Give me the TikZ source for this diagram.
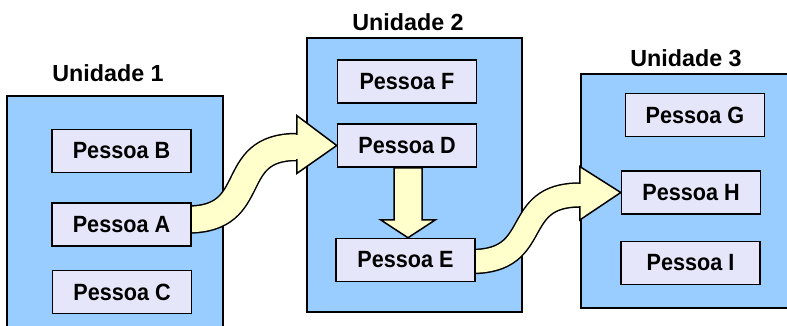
\documentclass[tikz,border=0pt]{standalone}
\usepackage{fontspec}
\setmainfont{Liberation Sans}
\newfontfamily\narrowsans{Liberation Sans}[FakeStretch=0.92]
\usetikzlibrary{calc}
\definecolor{unitblue}{HTML}{99CCFF}
\definecolor{personfill}{HTML}{E6E6FA}
\definecolor{flowyellow}{HTML}{FFFFCC}
\pgfdeclarelayer{unitlayer}
\pgfdeclarelayer{flowlayer}
\pgfsetlayers{unitlayer,flowlayer,main}
\tikzset{
  unitbox/.style={draw=black, line width=1.6pt, fill=unitblue, inner sep=0pt},
  person/.style={draw=black, line width=1.5pt, fill=personfill, inner sep=0pt,
    minimum width=139pt, minimum height=43pt,
    font=\narrowsans\fontsize{23.5}{26}\selectfont\bfseries},
  unitlabel/.style={inner sep=0pt, font=\fontsize{23.3}{26}\selectfont\bfseries},
  flowshaft/.style={draw=black, line width=1.5pt, double=flowyellow, double distance=#1},
  flowshaft/.default=24pt,
  flowhead/.style={draw=black, line width=1.5pt, fill=flowyellow, line join=miter},
  flowpatch/.style={draw=flowyellow, line width=#1},
  flowpatch/.default=23pt
}
\begin{document}
\begin{tikzpicture}[x=1pt, y=-1pt]
\useasboundingbox (0,0) rectangle (787,325);

% people
\node[person] (B) at (121.5,151) {Pessoa B};
\node[person] (A) at (121.5,224.5) {Pessoa A};
\node[person] (C) at (122,292) {Pessoa C};
\node[person] (F) at (407,81.5) {Pessoa F};
\node[person] (D) at (407,145.5) {Pessoa D};
\node[person] (E) at (405.5,260) {Pessoa E};
\node[person] (G) at (695,115) {Pessoa G};
\node[person] (H) at (691,192.5) {Pessoa H};
\node[person] (I) at (690.5,263) {Pessoa I};

% units
\begin{pgfonlayer}{unitlayer}
\node[unitbox, minimum width=216pt, minimum height=244pt] (u1) at (115,218) {};
\node[unitbox, minimum width=215pt, minimum height=274pt] (u2) at (414.5,175) {};
\node[unitbox, minimum width=214pt, minimum height=234pt] (u3) at (688,191) {};
\end{pgfonlayer}
\node[unitlabel] (l1) at (108,73) {Unidade 1};
\node[unitlabel] (l2) at (408,22) {Unidade 2};
\node[unitlabel] (l3) at (686,58) {Unidade 3};

% transfers
\begin{pgfonlayer}{flowlayer}
% A -> D
\coordinate (s1) at ($(A.east)+(-4,-5)$);
\coordinate (b1) at ($(D.west)+(-40,1.5)$);
\draw[flowshaft=25.5pt] (s1) .. controls ($(s1)+(74,0)$) and ($(b1)+(-72,0)$) .. (b1) -- ($(b1)+(4,0)$);
\draw[flowhead] ($(D.west)+(-40,-30)$) -- (D.west) -- ($(D.west)+(-40,28)$) -- cycle;
\draw[flowpatch=24.5pt] ($(b1)+(-6,0)$) -- ($(b1)+(3,0)$);
% E -> H
\coordinate (s2) at ($(E.east)+(-4,1.5)$);
\coordinate (b2) at ($(H.west)+(-41,2.5)$);
\draw[flowshaft=22.5pt] (s2) .. controls ($(s2)+(72,0)$) and ($(b2)+(-70,0)$) .. (b2) -- ($(b2)+(4,0)$);
\draw[flowhead] ($(H.west)+(-41,-26)$) -- (H.west) -- ($(H.west)+(-41,27.5)$) -- cycle;
\draw[flowpatch=21.5pt] ($(b2)+(-6,0)$) -- ($(b2)+(3,0)$);
% D -> E
\coordinate (dt) at ($(D.south)+(1,0)$);
\coordinate (dh) at ($(D.south |- E.north)+(1,0)$);
\draw[flowhead] ($(dt)+(-14,0)$) -- ($(dh)+(-14,-18)$) -- ($(dh)+(-27.5,-18)$) -- (dh)
  -- ($(dh)+(27.5,-18)$) -- ($(dh)+(14,-18)$) -- ($(dt)+(14,0)$) -- cycle;
\end{pgfonlayer}
\end{tikzpicture}
\end{document}
